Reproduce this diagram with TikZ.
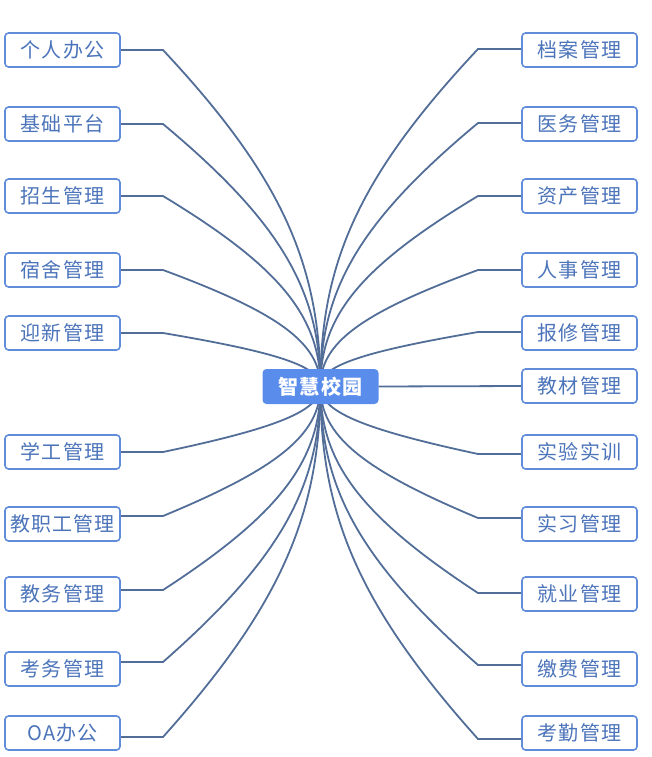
\documentclass[tikz,border=0pt]{standalone}
\usepackage{fontspec}
\setmainfont{Noto Sans CJK SC}
\newfontfamily\leaffont[LetterSpace=6]{Noto Sans CJK SC}
\newfontfamily\hubfont[LetterSpace=8]{Noto Sans CJK SC}
\usetikzlibrary{backgrounds}
\definecolor{leafborder}{RGB}{96,140,218}
\definecolor{leaftext}{RGB}{76,116,186}
\definecolor{hubfill}{RGB}{90,140,235}
\definecolor{linkcol}{RGB}{82,110,152}
\tikzset{
  leaf/.style={draw=leafborder, line width=1.6pt, rounded corners=3.5pt, fill=white,
    minimum width=115pt, minimum height=34pt, inner sep=0pt, text=leaftext,
    font=\leaffont\fontsize{20}{24}\selectfont},
  hub/.style={fill=hubfill, rounded corners=4pt, minimum width=116pt, minimum height=35pt,
    inner sep=0pt, text=white, font=\hubfont\fontsize{20}{24}\selectfont\bfseries},
  link/.style={draw=linkcol, line width=1.8pt}
}
\begin{document}
\begin{tikzpicture}[x=1pt,y=-1pt]
\useasboundingbox (0,0) rectangle (652,757);
\node[hub] (C) at (320.5,386.5) {智慧校园};
% left side
\foreach \i/\lab/\yb/\yl in {1/个人办公/50/50, 2/基础平台/124/124, 3/招生管理/196/196,
  4/宿舍管理/270/270, 5/迎新管理/333/333, 6/学工管理/452/452, 7/教职工管理/524/516,
  8/教务管理/594/590, 9/考务管理/669/662, 10/OA办公/733/737}{
  \node[leaf] (L\i) at (62.5,\yb) {\lab};
  \coordinate (LK\i) at (163,\yl);
  \pgfmathsetmacro\ym{(\yl+386)/2}
  \pgfmathsetmacro\ca{\yl+0.74*(\ym-\yl)}
  \pgfmathsetmacro\cb{386+0.74*(\ym-386)}
  \begin{pgfonlayer}{background}
  \draw[link] (L\i.east |- LK\i) -- (LK\i) .. controls (279.2,\ca) and (320,\cb) .. (C.center);
  \end{pgfonlayer}
}
% right side
\foreach \i/\lab/\yb/\yl in {1/档案管理/50/49, 2/医务管理/124/123, 3/资产管理/196/196,
  4/人事管理/270/270, 5/报修管理/333/332, 7/实验实训/452/454, 8/实习管理/524/518,
  9/就业管理/594/593, 10/缴费管理/669/665, 11/考勤管理/733/739}{
  \node[leaf] (R\i) at (579.5,\yb) {\lab};
  \coordinate (RK\i) at (478,\yl);
  \pgfmathsetmacro\ym{(\yl+386)/2}
  \pgfmathsetmacro\ca{\yl+0.74*(\ym-\yl)}
  \pgfmathsetmacro\cb{386+0.74*(\ym-386)}
  \begin{pgfonlayer}{background}
  \draw[link] (C.center) .. controls (320,\cb) and (361.1,\ca) .. (RK\i) -- (R\i.west |- RK\i);
  \end{pgfonlayer}
}
\node[leaf] (R6) at (579.5,386) {教材管理};
\draw[link] (C.east) -- (R6.west);
\end{tikzpicture}
\end{document}
